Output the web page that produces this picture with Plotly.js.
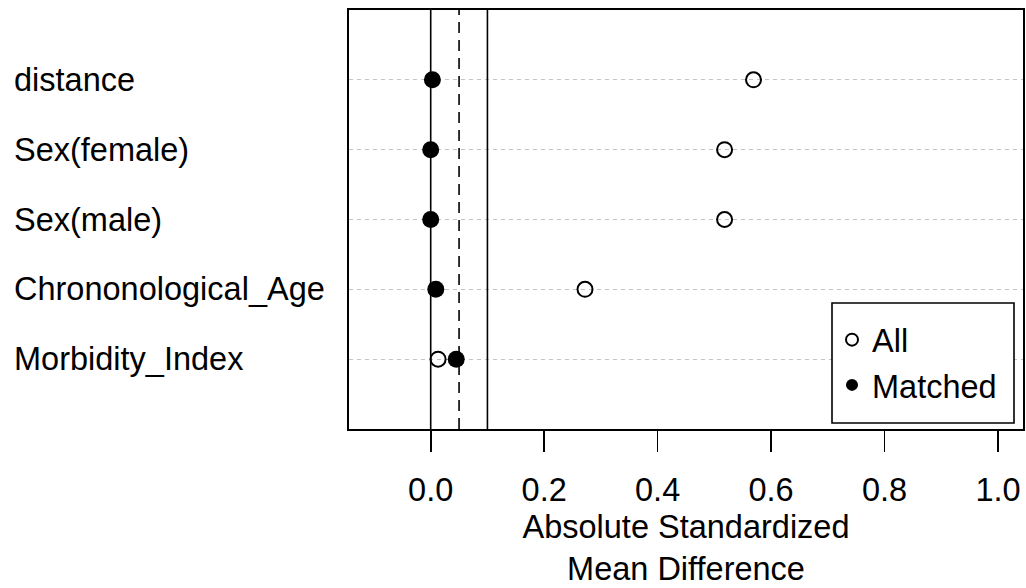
<!DOCTYPE html>
<html>
<head>
<meta charset="utf-8">
<script src="https://cdn.plot.ly/plotly-3.0.1.min.js"></script>
<style>html,body{margin:0;padding:0;background:#fff;}#chart{width:1026px;height:588px;}</style>
</head>
<body>
<div id="chart"></div>
<script>
// Data (top to bottom)
var covariates = ["distance", "Sex(female)", "Sex(male)", "Chrononological_Age", "Morbidity_Index"];
var rowPos = [5, 4, 3, 2, 1];
var allValues = [0.569, 0.518, 0.518, 0.272, 0.013];
var matchedValues = [0.003, 0.000, 0.000, 0.009, 0.045];
var xTickVals = [0, 0.2, 0.4, 0.6, 0.8, 1.0];
var xTickText = ["0.0", "0.2", "0.4", "0.6", "0.8", "1.0"];
var refLines = [0, 0.05, 0.1];

var FONT = "Liberation Sans, Arial, sans-serif";
var FS = 32.5;
var PW = 674, PH = 419, ML = 349, MT = 10;
function px(x) { return (x - ML) / PW; }
function py(y) { return (MT + PH - y) / PH; }

var traces = [
  {
    x: allValues, y: rowPos, type: "scatter", mode: "markers", name: "All",
    marker: {symbol: "circle-open", size: 15, color: "black", line: {width: 2, color: "black"}},
    cliponaxis: false
  },
  {
    x: matchedValues, y: rowPos, type: "scatter", mode: "markers", name: "Matched",
    marker: {symbol: "circle", size: 17, color: "black"},
    cliponaxis: false
  }
];

var shapes = refLines.map(function (v, i) {
  return {
    type: "line", xref: "x", yref: "paper", x0: v, x1: v, y0: 0, y1: 1,
    line: {color: "black", width: 1.6, dash: i === 1 ? "11px,7px" : "solid"}
  };
});
// legend frame
shapes.push({
  type: "rect", xref: "paper", yref: "paper", layer: "above",
  x0: px(832), x1: px(1014), y0: py(423), y1: py(303),
  fillcolor: "white", line: {color: "black", width: 1.6}
});

var annotations = covariates.map(function (c, i) {
  return {
    text: c, xref: "paper", yref: "y", x: px(12), y: rowPos[i],
    xanchor: "left", yanchor: "middle", showarrow: false,
    font: {family: FONT, size: FS, color: "black"}
  };
});

var layout = {
  width: 1026, height: 588,
  margin: {l: ML, r: 3, t: MT, b: 159},
  paper_bgcolor: "white", plot_bgcolor: "white",
  showlegend: true,
  font: {family: FONT, size: FS, color: "black"},
  xaxis: {
    range: [-0.144, 1.044], tickvals: xTickVals, ticktext: xTickText,
    ticks: "outside", ticklen: 21, tickwidth: 1.6, tickcolor: "black",
    showline: true, linecolor: "black", linewidth: 1.6, mirror: true,
    showgrid: false, zeroline: false,
    tickfont: {family: FONT, size: FS, color: "black"},
    ticklabelstandoff: 10,
    title: {text: "Absolute Standardized<br>Mean Difference", font: {family: FONT, size: FS, color: "black"}, standoff: 8}
  },
  yaxis: {
    range: [0, 6], tickvals: rowPos, ticktext: covariates, showticklabels: false,
    ticks: "", showline: true, linecolor: "black", linewidth: 1.6, mirror: true,
    showgrid: true, gridcolor: "#c4c4c4", gridwidth: 1.3, griddash: "4px,4px",
    zeroline: false
  },
  legend: {
    x: px(832), xanchor: "left", y: py(312), yanchor: "top",
    bordercolor: "black", borderwidth: 0, bgcolor: "rgba(0,0,0,0)",
    font: {family: FONT, size: FS, color: "black"},
    itemsizing: "constant", tracegroupgap: 0
  },
  shapes: shapes,
  annotations: annotations
};

Plotly.newPlot("chart", traces, layout, {staticPlot: true, displayModeBar: false});
</script>
</body>
</html>
